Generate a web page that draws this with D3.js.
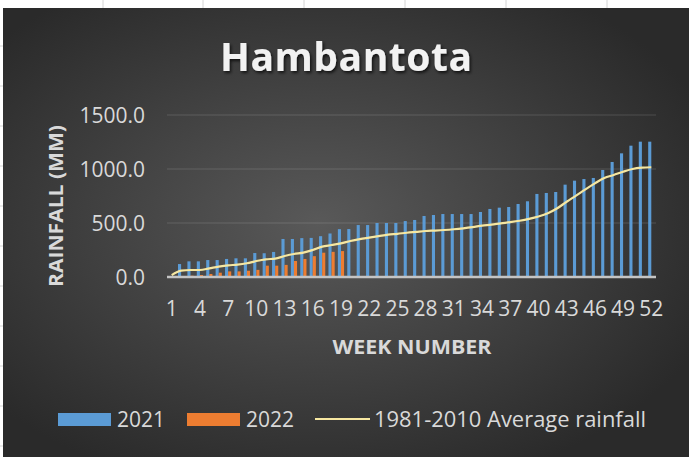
<!DOCTYPE html>
<html>
<head>
<meta charset="utf-8">
<script src="https://cdn.jsdelivr.net/npm/d3@7"></script>
<style>
html,body{margin:0;padding:0;background:#fff;}
svg{display:block;}
text{font-family:"Open Sans","DejaVu Sans",sans-serif;}
</style>
</head>
<body>
<svg id="chart" width="689" height="457"></svg>
<script>
const weeks = d3.range(1, 53);
const rain2021 = [8,120,145,145,157,157,167,173,173,222,220,232,352,352,360,362,378,403,443,444,
  481,481,500,500,500,518,528,565,574,583,583,583,583,602,630,642,648,676,701,769,
  778,787,855,892,907,917,991,1065,1145,1216,1253,1253];
const rain2022 = [3,8,12,18,28,40,52,52,58,66,105,105,112,148,167,193,225,233,240];
const avgRain = [18,59,65,65,80,96,108,114,127,148,164,170,194,213,225,250,281,296,312,333,
  350,364,378,392,400,410,418,426,430,435,442,451,462,475,485,497,508,521,538,560,
  590,636,697,753,812,867,917,945,975,1000,1012,1016];
const yTicks = [0, 500, 1000, 1500];
const xTickWeeks = weeks.filter(w => (w - 1) % 3 === 0);
const seriesNames = ["2021", "2022", "1981-2010 Average rainfall"];
const colors = {"2021": "#5b9bd5", "2022": "#ed7d31", avg: "#f6e7a1"};

const svg = d3.select("#chart");
const W = 689, H = 457;
const defs = svg.append("defs");
const rg = defs.append("radialGradient").attr("id","bg")
  .attr("cx","46%").attr("cy","48%").attr("r","62%");
rg.append("stop").attr("offset","0%").attr("stop-color","#595959");
rg.append("stop").attr("offset","100%").attr("stop-color","#2a2a2a");
const sh = defs.append("filter").attr("id","shadow").attr("x","-10%").attr("y","-20%").attr("width","130%").attr("height","160%");
sh.append("feDropShadow").attr("dx",1.5).attr("dy",2).attr("stdDeviation",1.5).attr("flood-color","#000").attr("flood-opacity",0.7);

// spreadsheet strip
svg.append("rect").attr("x",0).attr("y",0).attr("width",W).attr("height",H).attr("fill","#ffffff");
[103,203,304,405,506,607].forEach(x=>svg.append("line").attr("x1",x).attr("x2",x).attr("y1",0).attr("y2",8).attr("stroke","#d4d4d4"));
[46,86,126,166,206,246,286,326,366,406,446].forEach(y=>svg.append("line").attr("x1",0).attr("x2",4).attr("y1",y).attr("y2",y).attr("stroke","#d4d4d4"));
svg.append("rect").attr("x",3).attr("y",8).attr("width",W-3).attr("height",H-8).attr("fill","url(#bg)");

const x = d3.scaleBand().domain(weeks).range([167, 656]).padding(0);
const sub = d3.scaleBand().domain(["2021","2022"]).range([x.bandwidth()*0.17, x.bandwidth()*0.83]).padding(0);
const y = d3.scaleLinear().domain([0, 1500]).range([277, 115]);

// gridlines
svg.append("g").selectAll("line").data(yTicks.filter(d=>d>0)).join("line")
  .attr("x1",167).attr("x2",656).attr("y1",d=>y(d)).attr("y2",d=>y(d))
  .attr("stroke","rgba(255,255,255,0.14)").attr("stroke-width",1.2);

// bars
const bars = svg.append("g");
bars.selectAll("rect.b21").data(rain2021).join("rect").attr("class","b21")
  .attr("x",(d,i)=>x(weeks[i])+sub("2021")).attr("width",sub.bandwidth())
  .attr("y",d=>y(d)).attr("height",d=>y(0)-y(d)).attr("fill",colors["2021"]);
bars.selectAll("rect.b22").data(rain2022).join("rect").attr("class","b22")
  .attr("x",(d,i)=>x(weeks[i])+sub("2022")).attr("width",sub.bandwidth())
  .attr("y",d=>y(d)).attr("height",d=>y(0)-y(d)).attr("fill",colors["2022"]);

// baseline
svg.append("line").attr("x1",167).attr("x2",656).attr("y1",y(0)).attr("y2",y(0))
  .attr("stroke","#c4c4c4").attr("stroke-width",2.5);

// average line
const line = d3.line().x((d,i)=>x(weeks[i])+x.bandwidth()/2).y(d=>y(d)).curve(d3.curveMonotoneX);
svg.append("path").datum(avgRain).attr("d",line).attr("fill","none")
  .attr("stroke",colors.avg).attr("stroke-width",2.2);

// y axis labels
const yAxis = d3.axisLeft(y).tickValues(yTicks).tickFormat(d3.format(".1f")).tickSize(0).tickPadding(0);
const gy = svg.append("g").attr("transform","translate(145,0)").call(yAxis);
gy.select(".domain").remove();
gy.selectAll("text").attr("fill","#d9d9d9").style("font-size","21px").attr("dy","0.36em")
  .style("font-family","'Open Sans',sans-serif");

// x axis labels
const xAxis = d3.axisBottom(x).tickValues(xTickWeeks).tickSize(0).tickPadding(0);
const gx = svg.append("g").attr("transform","translate(0,308)").call(xAxis);
gx.select(".domain").remove();
gx.selectAll("text").attr("fill","#d9d9d9").style("font-size","21px").attr("dy","0.36em").attr("y",0)
  .style("font-family","'Open Sans',sans-serif");

// title
svg.append("text").attr("x",346).attr("y",71).attr("text-anchor","middle")
  .attr("fill","#f2f2f2").style("font-size","39px").style("font-weight","700")
  .attr("textLength",252).attr("lengthAdjust","spacing")
  .attr("filter","url(#shadow)").text("Hambantota");

// axis titles
svg.append("text").attr("transform","translate(63,206) rotate(-90)").attr("text-anchor","middle")
  .attr("fill","#d9d9d9").style("font-size","20px").style("font-weight","700")
  .attr("textLength",162).attr("lengthAdjust","spacingAndGlyphs").text("RAINFALL (MM)");
svg.append("text").attr("x",412).attr("y",354).attr("text-anchor","middle")
  .attr("fill","#d9d9d9").style("font-size","20px").style("font-weight","700")
  .attr("textLength",159).attr("lengthAdjust","spacingAndGlyphs").text("WEEK NUMBER");

// legend
const lg = svg.append("g");
lg.append("rect").attr("x",58).attr("y",413).attr("width",53).attr("height",13).attr("fill",colors["2021"]);
lg.append("text").attr("x",117).attr("y",427).attr("fill","#d9d9d9").style("font-size","21px").text(seriesNames[0]);
lg.append("rect").attr("x",187).attr("y",413).attr("width",53).attr("height",13).attr("fill",colors["2022"]);
lg.append("text").attr("x",246).attr("y",427).attr("fill","#d9d9d9").style("font-size","21px").text(seriesNames[1]);
lg.append("line").attr("x1",315).attr("x2",370).attr("y1",419).attr("y2",419).attr("stroke",colors.avg).attr("stroke-width",2);
lg.append("text").attr("x",374).attr("y",427).attr("fill","#d9d9d9").style("font-size","21px")
  .attr("textLength",272).attr("lengthAdjust","spacingAndGlyphs").text(seriesNames[2]);
</script>
</body>
</html>
